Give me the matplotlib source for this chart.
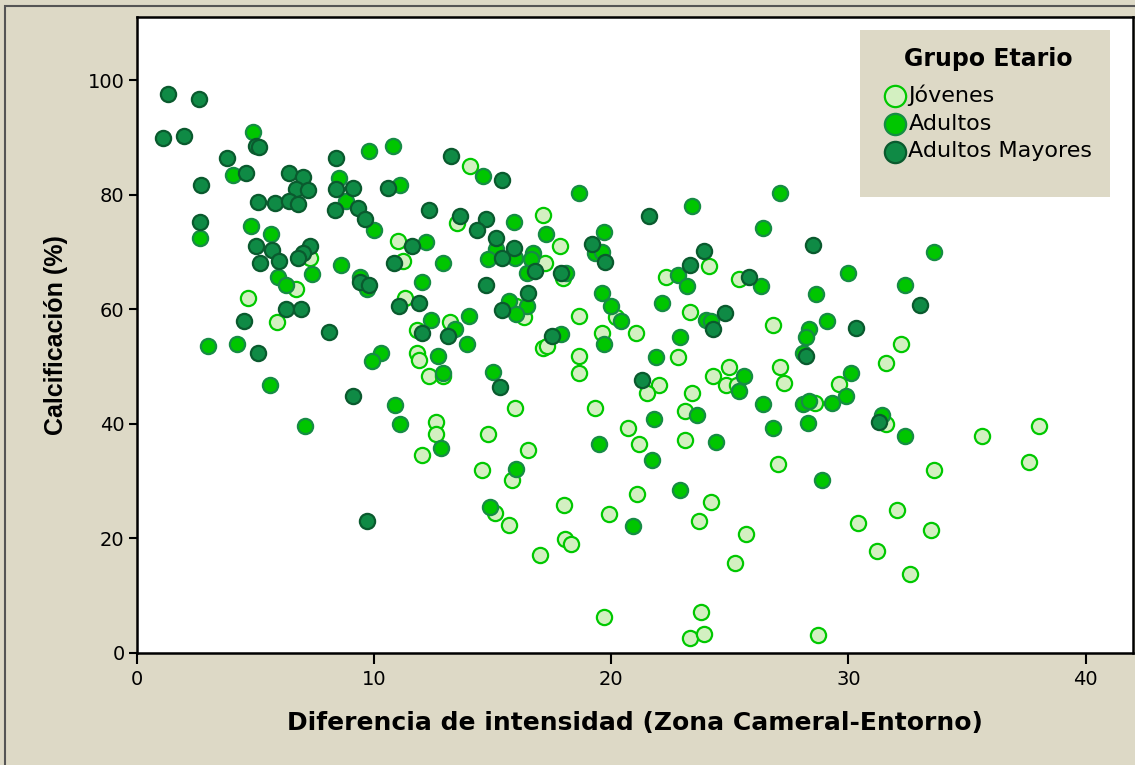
import matplotlib
matplotlib.use("Agg")
import matplotlib.pyplot as plt
from matplotlib.patches import Rectangle

# Jóvenes
jov_x = [7.3, 6.7, 4.7, 5.9, 14.05, 13.5, 17.1, 17.85, 11.0, 11.2, 17.2, 17.95, 11.3, 13.2,
         16.0, 16.3, 18.65, 20.2, 11.8, 19.6, 11.8, 11.9, 12.3, 12.9, 17.1, 17.3, 18.65, 18.65,
         12.6, 12.6, 12.0, 14.8, 15.95, 14.55, 16.5, 15.8, 19.3, 20.7, 15.1, 18.0, 19.9, 15.7,
         17.0, 18.05, 18.3, 19.7, 24.1, 22.3, 25.4, 23.3, 21.05, 26.8, 22.8, 22.0, 21.5, 23.4,
         24.3, 24.95, 24.85, 25.3, 27.1, 27.3, 29.6, 28.6, 23.1, 21.15, 23.1, 27.05, 21.1, 24.2,
         23.7, 25.7, 30.4, 25.2, 23.8, 23.3, 23.9, 28.7, 32.2, 31.6, 31.6, 35.65, 38.05, 37.6,
         33.6, 32.05, 33.5, 31.2, 32.6]
jov_y = [69.0, 63.6, 61.9, 57.7, 85.0, 75.0, 76.4, 71.0, 71.9, 68.4, 68.0, 65.4, 61.9, 57.7,
         60.5, 58.7, 58.9, 58.6, 56.3, 55.9, 52.4, 51.2, 48.4, 48.3, 53.3, 53.5, 51.8, 48.9,
         40.4, 38.3, 34.6, 38.3, 42.8, 32.0, 35.5, 30.2, 42.8, 39.2, 24.5, 25.9, 24.3, 22.4,
         17.1, 19.9, 19.1, 6.3, 67.5, 65.7, 65.2, 59.6, 55.8, 57.3, 51.7, 46.7, 45.3, 45.4,
         48.4, 50.0, 46.7, 46.7, 50.0, 47.2, 46.9, 43.7, 42.3, 36.5, 37.1, 32.9, 27.8, 26.4,
         23.1, 20.8, 22.7, 15.7, 7.2, 2.6, 3.3, 3.2, 54.0, 50.7, 39.9, 37.9, 39.7, 33.4,
         32.0, 25.0, 21.5, 17.8, 13.8]

# Adultos
adu_x = [4.9, 4.05, 9.8, 8.5, 8.8, 10.0, 2.66, 4.8, 5.65, 8.6, 5.95, 6.3, 7.4, 9.7, 9.4,
         3.0, 4.2, 10.3, 9.9, 5.6, 7.1, 10.8, 14.6, 18.65, 11.1, 15.9, 17.25, 19.7, 19.3, 19.6,
         12.2, 12.9, 15.15, 14.8, 15.95, 16.7, 16.6, 16.45, 18.1, 12.0, 12.4, 13.4, 14.0, 15.7,
         16.45, 16.0, 19.6, 20.0, 20.4, 17.9, 13.9, 12.7, 12.9, 15.0, 19.7, 10.9, 11.1, 12.8,
         16.0, 19.5, 14.9, 20.9, 23.4, 27.1, 26.4, 22.8, 23.2, 26.3, 30.0, 28.65, 22.15, 24.0,
         24.2, 22.9, 28.35, 28.2, 29.1, 28.1, 21.9, 25.6, 25.4, 30.1, 29.9, 29.3, 28.1, 28.35,
         28.3, 26.4, 26.8, 23.6, 21.8, 24.4, 21.7, 28.9, 22.9, 33.6, 32.4, 31.4, 32.4]
adu_y = [91.0, 83.4, 87.6, 82.9, 78.8, 73.8, 72.5, 74.6, 73.1, 67.8, 65.6, 64.3, 66.1, 63.5, 65.6,
         53.5, 54.0, 52.4, 50.9, 46.7, 39.7, 88.4, 83.3, 80.2, 81.6, 75.2, 73.1, 73.4, 69.8, 69.9,
         71.7, 68.0, 70.5, 68.7, 68.9, 69.8, 68.7, 66.4, 66.4, 64.7, 58.2, 56.6, 58.9, 61.5,
         60.5, 59.1, 62.8, 60.5, 57.9, 55.6, 54.0, 51.9, 48.9, 49.1, 54.0, 43.2, 39.9, 35.7,
         32.2, 36.4, 25.5, 22.2, 78.1, 80.2, 74.1, 65.9, 64.0, 64.0, 66.4, 62.6, 61.0, 58.2,
         57.9, 55.2, 56.6, 55.2, 57.9, 52.4, 51.7, 48.4, 45.8, 48.9, 44.8, 43.7, 43.5, 43.9,
         40.2, 43.4, 39.3, 41.6, 40.9, 36.9, 33.6, 30.2, 28.5, 69.9, 64.3, 41.6, 37.8]

# Adultos Mayores
may_x = [1.1, 1.3, 2.0, 2.6, 2.7, 2.66, 3.8, 4.6, 5.0, 5.15, 5.1, 5.8, 6.4, 7.0, 6.7, 7.2,
         6.4, 6.8, 8.4, 8.4, 9.1, 8.35, 9.3, 9.6, 5.0, 5.7, 7.3, 7.0, 6.8, 5.2, 6.0, 9.4, 9.8,
         6.3, 6.9, 4.5, 8.1, 5.1, 9.1, 9.7, 13.25, 15.4, 10.6, 12.3, 13.6, 14.7, 14.35, 19.2,
         19.75, 11.6, 10.85, 15.15, 15.4, 15.9, 16.8, 17.9, 14.7, 11.05, 11.9, 15.4, 16.5, 12.0,
         13.1, 17.5, 15.3, 21.6, 28.5, 23.9, 23.3, 25.8, 24.8, 24.3, 30.3, 28.2, 21.3, 33.0, 31.3]
may_y = [89.9, 97.6, 90.2, 96.7, 81.6, 75.2, 86.4, 83.7, 88.5, 88.3, 78.7, 78.5, 83.7, 83.0, 81.0, 80.8,
         78.9, 78.3, 86.4, 80.9, 81.1, 77.3, 77.6, 75.7, 71.0, 70.3, 71.0, 69.8, 68.9, 68.0, 68.4, 64.7, 64.2,
         60.1, 60.0, 57.9, 56.1, 52.4, 44.8, 23.1, 86.7, 82.5, 81.1, 77.4, 76.2, 75.7, 73.9, 71.3,
         68.2, 71.0, 68.0, 72.4, 69.0, 70.6, 66.6, 66.3, 64.2, 60.5, 61.0, 59.8, 62.9, 55.8,
         55.4, 55.4, 46.5, 76.2, 71.2, 70.1, 67.7, 65.6, 59.3, 56.6, 56.8, 51.9, 47.7, 60.8, 40.4]

groups = ["Jóvenes", "Adultos", "Adultos Mayores"]
face_cols = ["#d3f0c1", "#00c600", "#0f8a45"]
edge_cols = ["#00c800", "#168c44", "#0a5a2e"]

bg = "#ddd9c6"

fig = plt.figure(figsize=(11.35, 7.65), dpi=100, facecolor=bg)
fig.patches.append(Rectangle((5 / 1135, -0.1), 1.2, (765 - 6) / 765 + 0.1, transform=fig.transFigure,
                             fill=False, edgecolor="#555555", linewidth=1.5, zorder=0))
ax = fig.add_axes([137 / 1135, 1 - 653 / 765, (1133 - 137) / 1135, (653 - 17) / 765])
ax.set_facecolor("white")

for (xs, ys), lab, fc, ec in zip([(jov_x, jov_y), (adu_x, adu_y), (may_x, may_y)],
                                 groups, face_cols, edge_cols):
    ax.scatter(xs, ys, s=120, facecolor=fc, edgecolor=ec, linewidth=1.6, label=lab, zorder=3)

ax.set_xlim(0, 42)
ax.set_ylim(0, 111)
ax.set_xticks([0, 10, 20, 30, 40])
ax.set_yticks([0, 20, 40, 60, 80, 100])
for sp in ax.spines.values():
    sp.set_linewidth(1.8)
    sp.set_color("black")
ax.tick_params(axis="x", direction="out", length=8, width=1.5, pad=4, labelsize=14)
ax.tick_params(axis="y", direction="out", length=6, width=1.5, pad=3, labelsize=14)

ax.set_xlabel("Diferencia de intensidad (Zona Cameral-Entorno)",
              fontweight="bold", fontsize=18, labelpad=16)
ax.set_ylabel("Calcificación (%)", family=["Liberation Sans", "DejaVu Sans"],
              fontweight="bold", fontsize=18, labelpad=14)

# legend background box
ax.add_patch(Rectangle((0.726, 0.717), 0.251, 0.2626, transform=ax.transAxes,
                       facecolor=bg, edgecolor="none", zorder=4))
leg = ax.legend(loc="upper left", bbox_to_anchor=(0.750, 0.953), frameon=False,
                title="Grupo Etario", prop={"size": 16},
                title_fontproperties={"weight": "bold", "size": 17},
                handletextpad=0.1, labelspacing=0.34, borderpad=0, markerscale=1.4,
                handlelength=1.0, borderaxespad=0)
leg.set_zorder(5)
leg._legend_box.sep = 10

fig.savefig("out.png", dpi=100, facecolor=bg)
